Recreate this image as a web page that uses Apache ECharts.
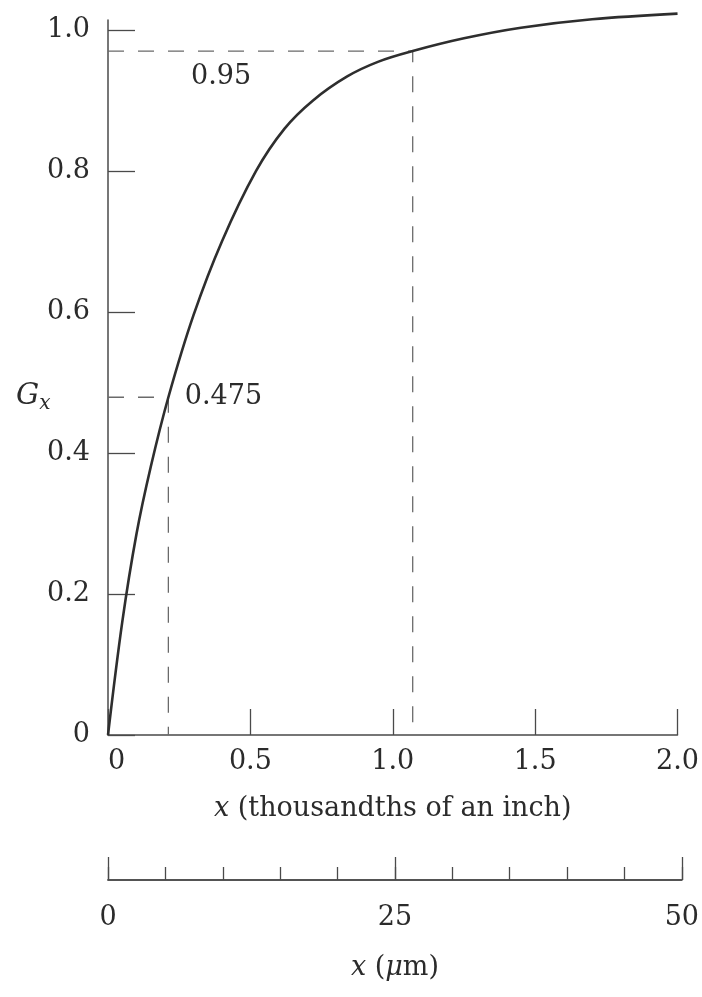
<!DOCTYPE html>
<html>
<head>
<meta charset="utf-8">
<script src="https://cdn.jsdelivr.net/npm/echarts@6/dist/echarts.min.js"></script>
<style>
html,body{margin:0;padding:0;background:#fff;}
#chart{width:702px;height:997px;}
</style>
</head>
<body>
<div id="chart"></div>
<script>
// Curve G_x vs x (thousandths of an inch)
const curveX = [0, 0.05, 0.10, 0.15, 0.212, 0.30, 0.40, 0.52, 0.62, 0.72, 0.84, 0.95, 1.07, 1.25, 1.45, 1.70, 2.0];
const curveY = [0, 0.16, 0.285, 0.38, 0.479, 0.595, 0.70, 0.80, 0.86, 0.90, 0.934, 0.955, 0.970, 0.988, 1.003, 1.015, 1.023];

// Dashed guide lines (x of curve point, y of curve point)
const guideX = [0.212, 1.07];
const guideY = [0.479, 0.970];

// Annotation texts and their anchor points
const annotText = ['0.475', '0.95'];
const annotX = [0.268, 0.29];
const annotY = [0.479, 0.933];

// Tick values and labels
const xTickValues = [0, 0.5, 1.0, 1.5, 2.0];
const xTickLabels = ['0', '0.5', '1.0', '1.5', '2.0'];
const yTickValues = [0, 0.2, 0.4, 0.6, 0.8, 1.0];
const yTickLabels = ['0', '0.2', '0.4', '0.6', '0.8', '1.0'];
const umMinorTicks = [0, 5, 10, 15, 20, 25, 30, 35, 40, 45, 50];
const umMajorTicks = [0, 25, 50];
const umMajorLabels = ['0', '25', '50'];

const FONT = 'DejaVu Serif';
const TXT = '#2b2b2b';
const AX = '#4a4a4a';

function lookup(vals, labels) {
  return function (v) {
    for (let i = 0; i < vals.length; i++) if (Math.abs(vals[i] - v) < 1e-6) return labels[i];
    return '';
  };
}

const curveData = curveX.map((x, i) => [x, curveY[i]]);
const guideSeries = guideX.map((gx, i) => ({
  type: 'line', xAxisIndex: 0, yAxisIndex: 0, symbol: 'none', silent: true,
  data: [[0, guideY[i]], [gx, guideY[i]], [gx, 0]],
  lineStyle: { color: '#6a6a6a', width: 1.3, type: [16, 14] }, z: 2
}));

const chart = echarts.init(document.getElementById('chart'), null, { renderer: 'canvas' });
chart.setOption({
  backgroundColor: '#fff',
  animation: false,
  textStyle: { fontFamily: FONT },
  grid: [
    { left: 108, right: 20, top: 20, bottom: 262 },
    { left: 108, right: 20, top: 860, bottom: 117 }
  ],
  xAxis: [
    {
      gridIndex: 0, type: 'value', min: 0, max: 2.0, interval: 0.5,
      axisLine: { lineStyle: { color: AX, width: 1.5 } },
      axisTick: { inside: true, length: 26, lineStyle: { color: AX, width: 1.3 }, customValues: xTickValues },
      axisLabel: { customValues: xTickValues, formatter: lookup(xTickValues, xTickLabels), fontFamily: FONT, fontSize: 27, color: TXT, margin: 13, alignMinLabel: 'left' },
      splitLine: { show: false },
      name: '{i|x} (thousandths of an inch)', nameLocation: 'middle', nameGap: 60,
      nameTextStyle: { fontFamily: FONT, fontSize: 27, color: TXT, rich: { i: { fontFamily: FONT, fontStyle: 'italic', fontSize: 27, color: TXT } } }
    },
    {
      gridIndex: 1, type: 'value', min: 0, max: 50, interval: 5,
      axisLine: { lineStyle: { color: AX, width: 1.5 } },
      axisTick: { inside: true, length: 13, lineStyle: { color: AX, width: 1.3 }, customValues: umMinorTicks },
      axisLabel: { show: false },
      splitLine: { show: false }
    },
    {
      gridIndex: 1, type: 'value', min: 0, max: 50, interval: 25, position: 'bottom', offset: 0,
      axisLine: { lineStyle: { color: AX, width: 1.5 } },
      axisTick: { inside: true, length: 23, lineStyle: { color: AX, width: 1.3 }, customValues: umMajorTicks },
      axisLabel: { customValues: umMajorTicks, formatter: lookup(umMajorTicks, umMajorLabels), fontFamily: FONT, fontSize: 27, color: TXT, margin: 24 },
      splitLine: { show: false },
      name: '{i|x} ({i|μ}m)', nameLocation: 'middle', nameGap: 74,
      nameTextStyle: { fontFamily: FONT, fontSize: 27, color: TXT, rich: { i: { fontFamily: FONT, fontStyle: 'italic', fontSize: 27, color: TXT } } }
    }
  ],
  yAxis: [
    {
      gridIndex: 0, type: 'value', min: 0, max: 1.014, interval: 0.2,
      axisLine: { lineStyle: { color: AX, width: 1.5 } },
      axisTick: { inside: true, length: 27, lineStyle: { color: AX, width: 1.3 }, customValues: yTickValues },
      axisLabel: { customValues: yTickValues, formatter: lookup(yTickValues, yTickLabels), fontFamily: FONT, fontSize: 27, color: TXT, margin: 18 },
      splitLine: { show: false }
    },
    { gridIndex: 1, type: 'value', show: false, min: 0, max: 1 }
  ],
  graphic: [
    {
      type: 'text', left: 16, top: 382,
      style: {
        text: '{g|G}{s|x}',
        rich: {
          g: { fontFamily: FONT, fontStyle: 'italic', fontSize: 29, fill: TXT },
          s: { fontFamily: FONT, fontStyle: 'italic', fontSize: 20, fill: TXT, padding: [14, 0, 0, 0] }
        }
      }
    }
  ],
  series: [
    {
      type: 'line', xAxisIndex: 0, yAxisIndex: 0, data: curveData, symbol: 'none', smooth: 0.35,
      clip: false, lineStyle: { color: '#2e2e2e', width: 2.6 }, z: 3
    },
    ...guideSeries,
    {
      type: 'scatter', xAxisIndex: 0, yAxisIndex: 0, clip: false, silent: true,
      symbolSize: 1, itemStyle: { color: 'rgba(0,0,0,0)' },
      data: annotX.map((x, i) => ({ value: [x, annotY[i]], name: annotText[i] })),
      label: {
        show: true, position: 'right', distance: 0, formatter: p => p.name, opacity: 1,
        fontFamily: FONT, fontSize: 27, color: TXT, textBorderWidth: 0
      }
    }
  ]
});
</script>
</body>
</html>
